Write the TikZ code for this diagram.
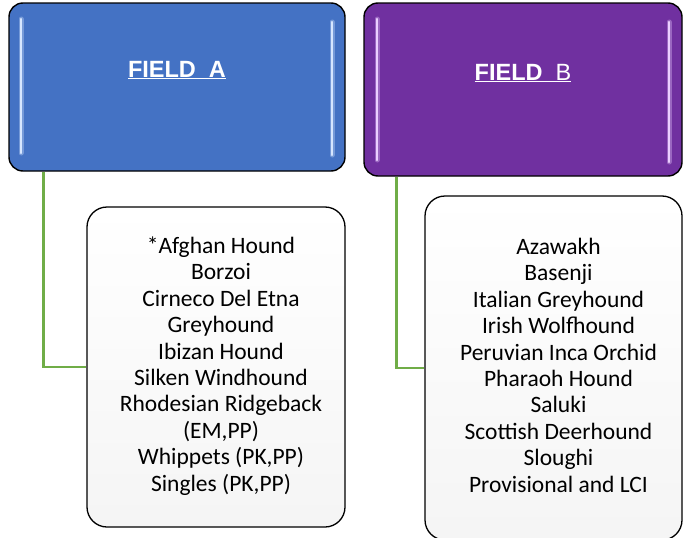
\documentclass[tikz,border=0pt]{standalone}
\usepackage{fontspec}
\setmainfont{Carlito}
\newfontfamily\arialfont{Liberation Sans}
\usetikzlibrary{calc}
\definecolor{hdrblue}{HTML}{4472C4}
\definecolor{hdrpurple}{HTML}{7030A0}
\definecolor{conngreen}{HTML}{70AD47}
\definecolor{glowblue}{HTML}{D6E6FF}
\definecolor{glowpurple}{HTML}{EBCFFF}
\newcommand{\listlines}[1]{\hspace*{10pt}\begin{tabular}{@{}c@{}}#1\end{tabular}}
\tikzset{
  header/.style={draw=black, line width=1.4pt, rounded corners=14pt, minimum width=336pt, inner sep=0pt},
  hdrtext/.style={text=white, font=\arialfont\fontsize{23.5}{27}\selectfont},
  listbox/.style={draw=black, line width=1.3pt, rounded corners=20pt, top color=white, bottom color=black!4, minimum width=258pt, inner sep=0pt, font=\fontsize{23.5}{26.4}\selectfont},
  conn/.style={draw=conngreen, line width=2.5pt},
  glow/.style={line width=2.2pt, line cap=round},
  glowsoft/.style={line width=5pt, line cap=round, opacity=0.35}
}
\begin{document}
\begin{tikzpicture}[x=1pt,y=-1pt]
\useasboundingbox (0,0) rectangle (683,538);
% headers
\node[header, fill=hdrblue, minimum height=168pt] (A) at (177,87) {};
\node[hdrtext, anchor=center] (At) at (177,70) {\textbf{\underline{FIELD\ \ A}}};
\node[header, fill=hdrpurple, minimum height=173pt, minimum width=318pt] (B) at (523,89.5) {};
\node[hdrtext, anchor=center] (Bt) at (523,73) {\underline{\textbf{FIELD}\ \ B}};
% glossy highlights
\draw[glowsoft, glowblue] (21,19) -- (21,153);
\draw[glowsoft, glowblue] (332,22) -- (332,155);
\draw[glow, glowblue] (21,19) -- (21,153);
\draw[glow, glowblue] (332,22) -- (332,155);
\draw[glowsoft, glowpurple] (377,19) -- (377,160);
\draw[glowsoft, glowpurple] (669,22) -- (669,162);
\draw[glow, glowpurple] (377,19) -- (377,160);
\draw[glow, glowpurple] (669,22) -- (669,162);
% list boxes
\node[listbox, minimum height=320pt] (cA) at (216,367) {\listlines{*Afghan Hound\\Borzoi\\Cirneco Del Etna\\Greyhound\\Ibizan Hound\\Silken Windhound\\Rhodesian Ridgeback\\(EM,PP)\\Whippets (PK,PP)\\Singles (PK,PP)}};
\node[listbox, minimum height=344pt, minimum width=257pt] (cB) at (553.5,368) {\listlines{Azawakh\\Basenji\\Italian Greyhound\\Irish Wolfhound\\Peruvian Inca Orchid\\Pharaoh Hound\\Saluki\\Scottish Deerhound\\Sloughi\\Provisional and LCI}};
% connectors
\draw[conn] ([xshift=35pt]A.south west) |- (cA.west);
\draw[conn] ([xshift=33pt]B.south west) |- (cB.west);
\end{tikzpicture}
\end{document}
